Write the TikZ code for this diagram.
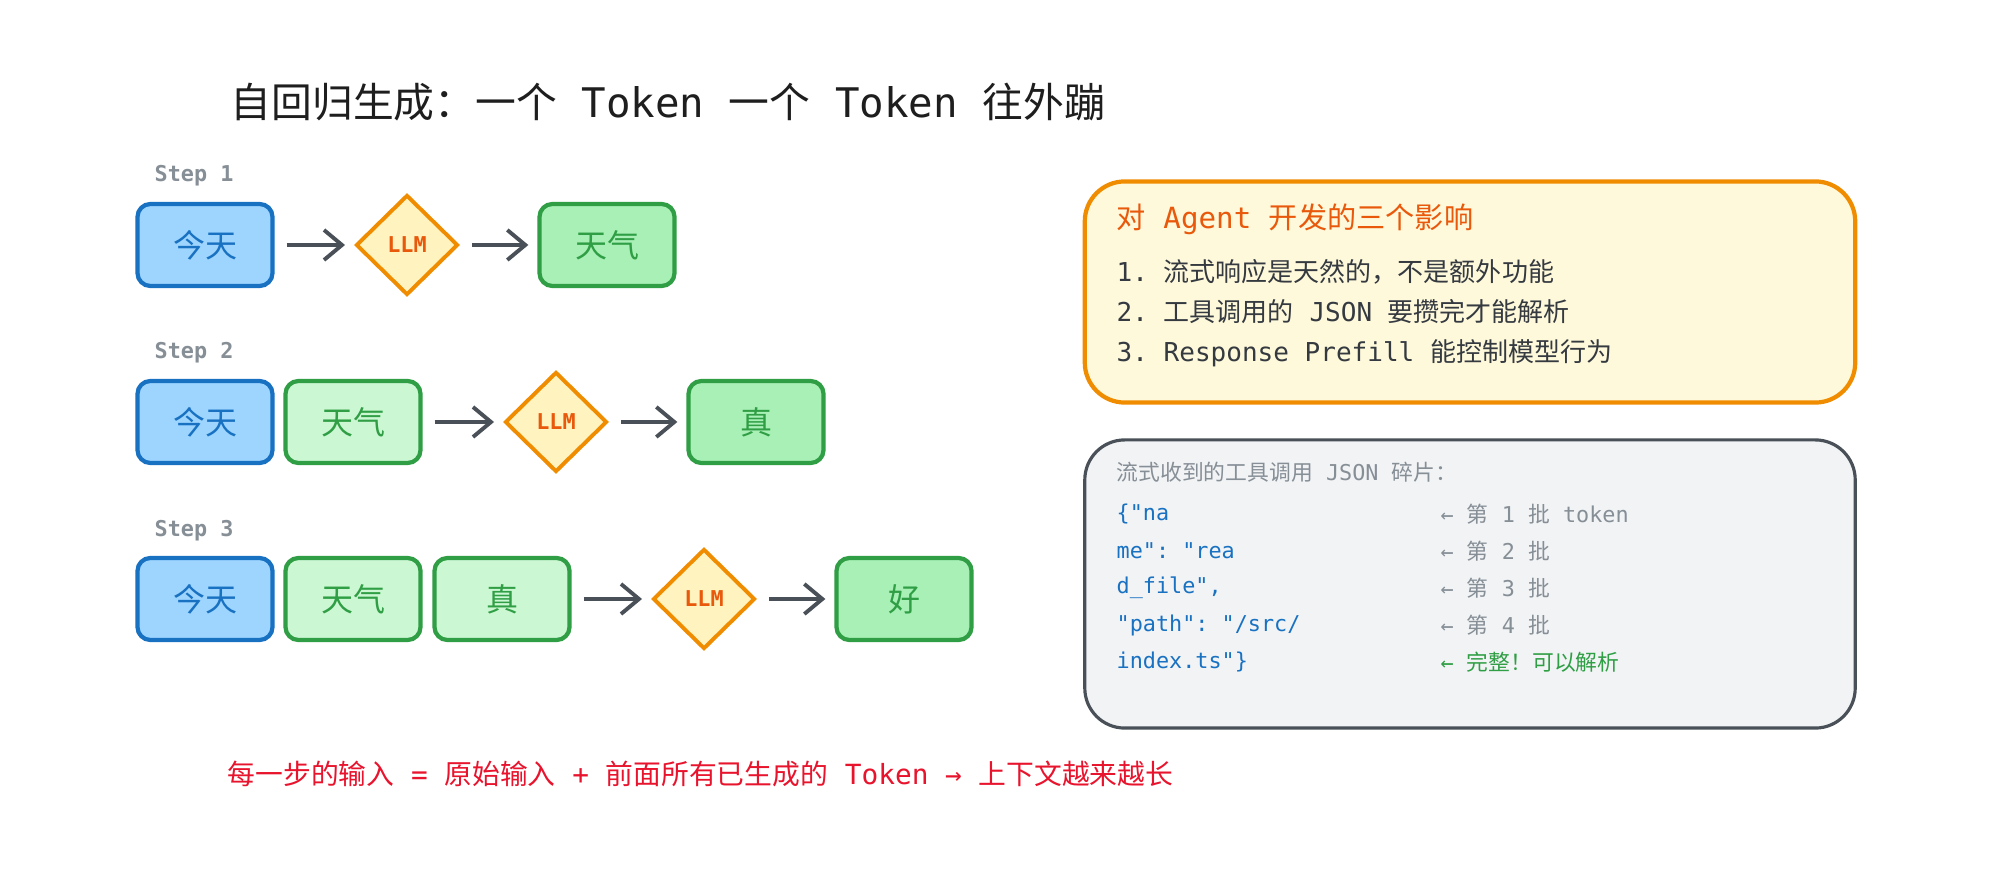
\documentclass[tikz,border=0pt]{standalone}
\usepackage{fontspec}
\setmainfont{Noto Sans CJK SC}
\setmonofont{DejaVu Sans Mono}
\usetikzlibrary{arrows.meta, shapes.geometric}

\definecolor{inkblack}{HTML}{1E1E1E}
\definecolor{stepgray}{HTML}{868E96}
\definecolor{textgray}{HTML}{343A40}
\definecolor{bluefill}{HTML}{9DD5FF}
\definecolor{blueline}{HTML}{1971C2}
\definecolor{greenfill}{HTML}{A8F0B6}
\definecolor{greenpale}{HTML}{CCF7D3}
\definecolor{greenline}{HTML}{2F9E44}
\definecolor{llmfill}{HTML}{FFF3BF}
\definecolor{llmline}{HTML}{F08C00}
\definecolor{llmtext}{HTML}{E8590C}
\definecolor{notefill}{HTML}{FFF9DB}
\definecolor{codefill}{HTML}{F1F3F5}
\definecolor{codeline}{HTML}{495057}
\definecolor{alertred}{HTML}{E8142D}

\tikzset{
  token/.style={draw, rounded corners=0.13cm, line width=1.2pt,
    minimum width=1.35cm, minimum height=0.82cm,
    font=\fontsize{9.1pt}{11pt}\selectfont},
  prompt/.style={token, fill=bluefill, draw=blueline, text=blueline},
  done/.style={token, fill=greenpale, draw=greenline, text=greenline},
  fresh/.style={token, fill=greenfill, draw=greenline, text=greenline},
  llm/.style={diamond, draw=llmline, fill=llmfill, line width=1.1pt,
    minimum width=1.02cm, minimum height=1.0cm, inner sep=0pt,
    text=llmtext, font=\ttfamily\bfseries\fontsize{6.2pt}{8pt}\selectfont},
  arr/.style={draw=codeline, line width=1.1pt,
    -{Straight Barb[length=0.18cm,width=0.3cm]},
    shorten <=0.12cm, shorten >=0.09cm},
  txt/.style={anchor=west, inner sep=0pt},
  headline/.style={txt, text=inkblack, font=\fontsize{11.6pt}{14pt}\selectfont},
  steplabel/.style={txt, text=stepgray, font=\ttfamily\bfseries\fontsize{6.2pt}{8pt}\selectfont},
  panel/.style={rounded corners=0.4cm, minimum width=7.7cm},
  notehead/.style={txt, text=llmtext, font=\fontsize{8.3pt}{10pt}\selectfont},
  noteitem/.style={txt, text=textgray, font=\fontsize{7.4pt}{9pt}\selectfont},
  codehead/.style={txt, text=stepgray, font=\fontsize{6.2pt}{8pt}\selectfont},
  codetext/.style={txt, text=blueline, font=\ttfamily\fontsize{6.2pt}{8pt}\selectfont},
  codenote/.style={txt, text=stepgray, font=\fontsize{6.2pt}{8pt}\selectfont},
}

\begin{document}
\begin{tikzpicture}[x=0.01cm, y=-0.01cm]
  \path[use as bounding box, fill=white] (0,0) rectangle (2000,892);

  \node[headline] (title) at (230,102) {自回归生成：一个\texttt{ Token }一个\texttt{ Token }往外蹦};

  % step 1
  \node[steplabel] (s1) at (154,176) {Step 1};
  \node[prompt] (r1a) at (205,245) {今天};
  \node[llm] (r1m) at (407,245) {LLM};
  \node[fresh] (r1o) at (607,245) {天气};
  \draw[arr] (r1a) -- (r1m);
  \draw[arr] (r1m) -- (r1o);

  % step 2
  \node[steplabel] (s2) at (154,353) {Step 2};
  \node[prompt] (r2a) at (205,422) {今天};
  \node[done] (r2b) at (353,422) {天气};
  \node[llm] (r2m) at (556,422) {LLM};
  \node[fresh] (r2o) at (756,422) {真};
  \draw[arr] (r2b) -- (r2m);
  \draw[arr] (r2m) -- (r2o);

  % step 3
  \node[steplabel] (s3) at (154,531) {Step 3};
  \node[prompt] (r3a) at (205,599) {今天};
  \node[done] (r3b) at (353,599) {天气};
  \node[done] (r3c) at (502,599) {真};
  \node[llm] (r3m) at (704,599) {LLM};
  \node[fresh] (r3o) at (904,599) {好};
  \draw[arr] (r3c) -- (r3m);
  \draw[arr] (r3m) -- (r3o);

  \node[txt, text=alertred, font=\fontsize{7.9pt}{9pt}\selectfont] (sum) at (227,774)
    {每一步的输入\texttt{ = }原始输入\texttt{ + }前面所有已生成的\texttt{ Token → }上下文越来越长};

  % effects on agents
  \node[panel, draw=llmline, fill=notefill, line width=1.2pt, minimum height=2.21cm] (effects) at (1470,292) {};
  \node[notehead] (e0) at (1116,219) {对\texttt{ Agent }开发的三个影响};
  \node[noteitem] (e1) at (1116,272) {\texttt{1. }流式响应是天然的，不是额外功能};
  \node[noteitem] (e2) at (1116,312) {\texttt{2. }工具调用的\texttt{ JSON }要攒完才能解析};
  \node[noteitem] (e3) at (1116,353) {\texttt{3. Response Prefill }能控制模型行为};

  % streamed json chunks
  \node[panel, draw=codeline, fill=codefill, line width=0.9pt, minimum height=2.88cm] (chunks) at (1470,584) {};
  \node[codehead] (c0) at (1116,472) {流式收到的工具调用\texttt{ JSON }碎片：};
  \node[codetext] (c1) at (1116,514) {\{"na};
  \node[codetext] (c2) at (1116,551) {me": "rea};
  \node[codetext] (c3) at (1116,588) {d\_file",};
  \node[codetext] (c4) at (1116,625) {"path": "/src/};
  \node[codetext] (c5) at (1116,662) {index.ts"\}};
  \node[codenote] (n1) at (1440,514) {\texttt{← }第\texttt{ 1 }批\texttt{ token}};
  \node[codenote] (n2) at (1440,551) {\texttt{← }第\texttt{ 2 }批};
  \node[codenote] (n3) at (1440,588) {\texttt{← }第\texttt{ 3 }批};
  \node[codenote] (n4) at (1440,625) {\texttt{← }第\texttt{ 4 }批};
  \node[codenote, text=greenline] (n5) at (1440,662) {\texttt{← }完整！可以解析};
\end{tikzpicture}
\end{document}
